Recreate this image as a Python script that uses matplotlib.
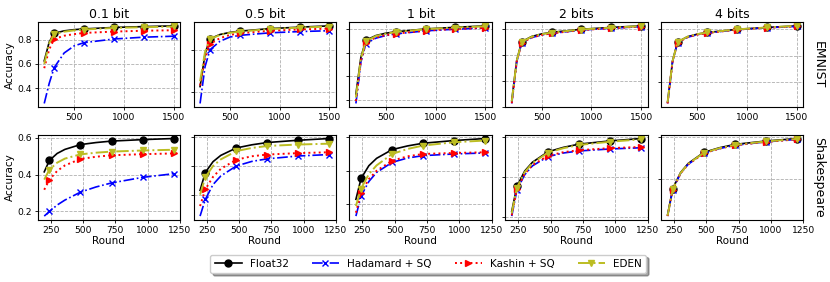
import numpy as np
import matplotlib
matplotlib.use("Agg")
import matplotlib.pyplot as plt
from matplotlib.ticker import MultipleLocator

# rounds
emnist_rounds = [200, 250, 300, 400, 500, 600, 900, 1200, 1500]
emnist_marks = [2, 5, 6, 7, 8]
shakes_rounds = [200, 240, 300, 360, 480, 600, 720, 960, 1200]
shakes_marks = [1, 4, 6, 7, 8]

bits = ["0.1 bit", "0.5 bit", "1 bit", "2 bits", "4 bits"]

# EMNIST accuracy
emnist_float32 = [0.625, 0.78, 0.852, 0.872, 0.882, 0.888, 0.900, 0.907, 0.913]
emnist_hadamard = [
    [0.275, 0.44, 0.57, 0.69, 0.748, 0.775, 0.805, 0.82, 0.828],
    [0.545, 0.72, 0.80, 0.84, 0.86, 0.868, 0.88, 0.886, 0.89],
    [0.585, 0.76, 0.838, 0.861, 0.872, 0.879, 0.892, 0.899, 0.904],
    [0.614, 0.774, 0.847, 0.868, 0.878, 0.884, 0.897, 0.904, 0.91],
    [0.62, 0.778, 0.85, 0.87, 0.88, 0.886, 0.899, 0.906, 0.911],
]
emnist_kashin = [
    [0.565, 0.72, 0.805, 0.832, 0.845, 0.855, 0.866, 0.873, 0.877],
    [0.63, 0.76, 0.827, 0.855, 0.87, 0.878, 0.89, 0.896, 0.90],
    [0.595, 0.765, 0.842, 0.864, 0.874, 0.88, 0.893, 0.90, 0.905],
    [0.615, 0.775, 0.848, 0.868, 0.878, 0.884, 0.897, 0.904, 0.91],
    [0.62, 0.778, 0.85, 0.87, 0.88, 0.886, 0.899, 0.906, 0.911],
]
emnist_eden = [
    [0.60, 0.77, 0.845, 0.865, 0.876, 0.883, 0.896, 0.902, 0.908],
    [0.65, 0.79, 0.85, 0.87, 0.88, 0.886, 0.898, 0.905, 0.91],
    [0.61, 0.775, 0.848, 0.87, 0.88, 0.887, 0.899, 0.906, 0.911],
    [0.622, 0.779, 0.851, 0.871, 0.881, 0.887, 0.899, 0.906, 0.912],
    [0.624, 0.78, 0.852, 0.872, 0.882, 0.888, 0.90, 0.907, 0.913],
]

# Shakespeare accuracy
shakes_float32 = [0.415, 0.477, 0.515, 0.537, 0.563, 0.574, 0.582, 0.590, 0.596]
shakes_hadamard = [
    [0.175, 0.20, 0.235, 0.262, 0.305, 0.333, 0.355, 0.385, 0.405],
    [0.325, 0.383, 0.435, 0.465, 0.50, 0.516, 0.525, 0.535, 0.54],
    [0.365, 0.425, 0.468, 0.495, 0.525, 0.538, 0.545, 0.55, 0.553],
    [0.403, 0.468, 0.506, 0.528, 0.551, 0.56, 0.565, 0.57, 0.573],
    [0.412, 0.475, 0.513, 0.535, 0.561, 0.572, 0.58, 0.588, 0.594],
]
shakes_kashin = [
    [0.318, 0.373, 0.42, 0.45, 0.485, 0.497, 0.505, 0.511, 0.515],
    [0.36, 0.418, 0.462, 0.49, 0.522, 0.534, 0.54, 0.545, 0.548],
    [0.375, 0.435, 0.475, 0.50, 0.53, 0.543, 0.55, 0.553, 0.555],
    [0.405, 0.47, 0.508, 0.53, 0.553, 0.562, 0.567, 0.572, 0.575],
    [0.412, 0.475, 0.513, 0.535, 0.561, 0.572, 0.58, 0.588, 0.594],
]
shakes_eden = [
    [0.373, 0.427, 0.465, 0.487, 0.51, 0.519, 0.525, 0.531, 0.535],
    [0.40, 0.46, 0.50, 0.523, 0.552, 0.563, 0.57, 0.575, 0.578],
    [0.395, 0.447, 0.49, 0.516, 0.55, 0.565, 0.575, 0.585, 0.59],
    [0.41, 0.474, 0.512, 0.535, 0.561, 0.572, 0.58, 0.588, 0.594],
    [0.413, 0.476, 0.514, 0.536, 0.562, 0.573, 0.581, 0.589, 0.595],
]

emnist_ystep = [0.2, 0.2, 0.1, 0.1, 0.1]
shakes_ystep = [0.2, 0.1, 0.1, 0.1, 0.1]

fig, axes = plt.subplots(2, 5, figsize=(8.3, 2.82), dpi=100)
fig.subplots_adjust(left=0.0455, right=0.968, top=0.922, bottom=0.22,
                    wspace=0.095, hspace=0.32)

def draw(ax, x, marks, f32, had, kas, eden):
    ax.plot(x, f32, color="black", ls="-", marker="o", ms=5, lw=1.2,
            markevery=marks, label="Float32")
    ax.plot(x, had, color="blue", ls="-.", marker="x", ms=5, lw=1.2,
            markevery=marks, label="Hadamard + SQ")
    ax.plot(x, kas, color="red", ls=":", marker=">", ms=5, lw=1.4,
            markevery=marks, label="Kashin + SQ")
    ax.plot(x, eden, color="#bcbd22", ls="-.", marker="v", ms=5, lw=1.4,
            markevery=marks, label="EDEN")
    ax.grid(True, ls="--", color="#b0b0b0", lw=0.6)
    ax.tick_params(labelsize=6.6, length=2.5, width=0.6, pad=1.5)
    for s in ax.spines.values():
        s.set_linewidth(0.8)

for i in range(5):
    ax = axes[0, i]
    draw(ax, emnist_rounds, emnist_marks, emnist_float32,
         emnist_hadamard[i], emnist_kashin[i], emnist_eden[i])
    ax.set_xticks([500, 1000, 1500])
    ax.yaxis.set_major_locator(MultipleLocator(emnist_ystep[i]))
    ax.set_title(bits[i], fontsize=9, pad=3)

    ax = axes[1, i]
    draw(ax, shakes_rounds, shakes_marks, shakes_float32,
         shakes_hadamard[i], shakes_kashin[i], shakes_eden[i])
    ax.set_xticks([250, 500, 750, 1000, 1250])
    ax.yaxis.set_major_locator(MultipleLocator(shakes_ystep[i]))
    ax.set_xlabel("Round", fontsize=7.5, labelpad=1)
    if i > 0:
        axes[0, i].set_yticklabels([])
        axes[1, i].set_yticklabels([])

axes[0, 0].set_ylabel("Accuracy", fontsize=7.5, labelpad=2)
axes[1, 0].set_ylabel("Accuracy", fontsize=7.5, labelpad=2)

axes[0, 4].text(1.06, 0.5, "EMNIST", transform=axes[0, 4].transAxes,
                rotation=-90, va="center", ha="left", fontsize=9)
axes[1, 4].text(1.06, 0.5, "Shakespeare", transform=axes[1, 4].transAxes,
                rotation=-90, va="center", ha="left", fontsize=9)

handles, labels = axes[0, 0].get_legend_handles_labels()
fig.legend(handles, labels, loc="center", bbox_to_anchor=(0.516, 0.064),
           ncol=4, fontsize=7.5, shadow=True, fancybox=True,
           handlelength=2.6, columnspacing=2.2, borderpad=0.4)

plt.savefig("out.png", dpi=100)
